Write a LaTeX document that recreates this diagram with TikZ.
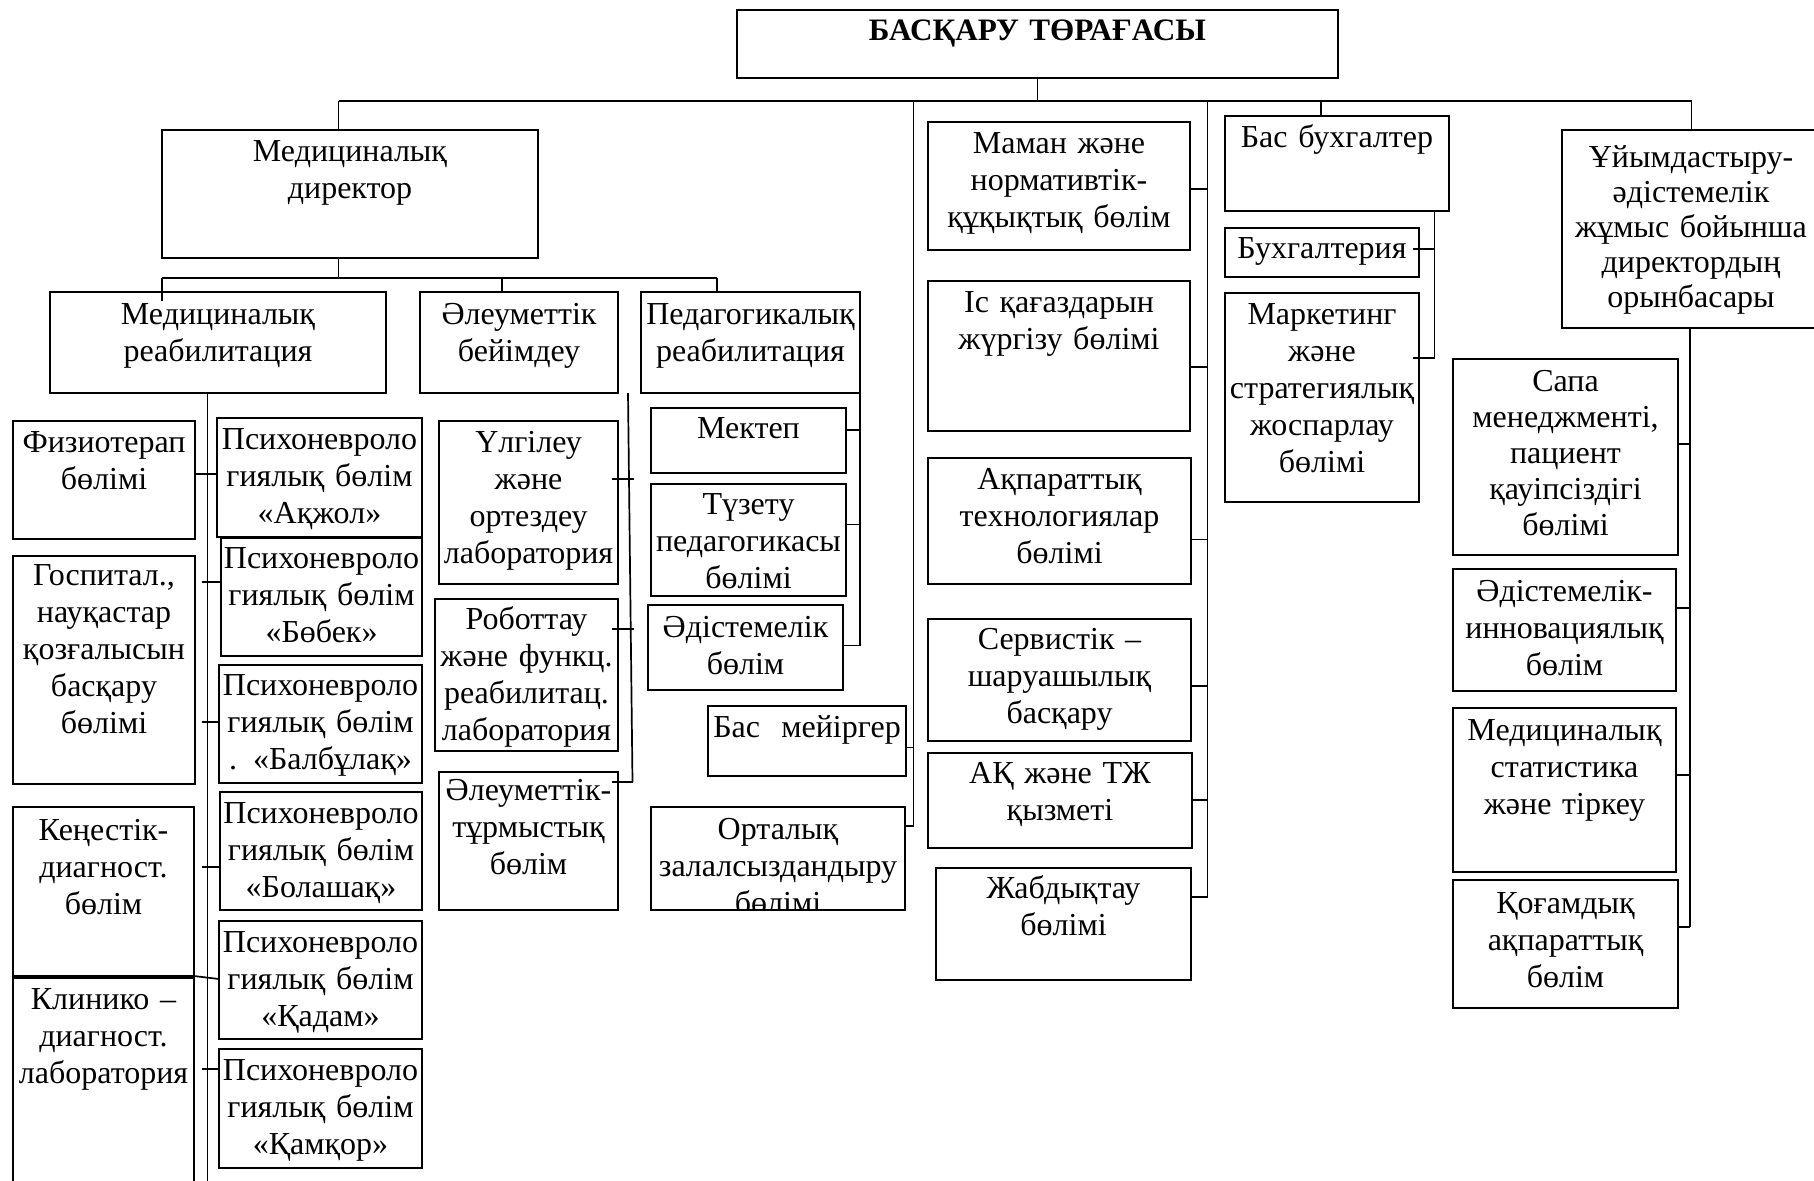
\documentclass[tikz,border=0pt]{standalone}
\usepackage{fontspec}
\setmainfont{Liberation Serif}
\usetikzlibrary{calc}
\tikzset{
  boxst/.style={draw, line width=1pt, inner sep=0pt, outer sep=0pt, rectangle},
  txt/.style={inner sep=0pt, outer sep=0pt, align=center, font=\fontsize{16}{18.5}\selectfont, anchor=base},
  ln/.style={line width=0.85pt},
}
\newcommand\bx[8][]{%
  \pgfmathsetmacro\bxw{(#5-#3)*0.5}%
  \pgfmathsetmacro\bxh{(#6-#4)*0.5}%
  \pgfmathsetmacro\bxt{(#5-#3)*0.5+40}%
  \node[boxst, minimum width=\bxw pt, minimum height=\bxh pt] (#2) at ({(#3+#5)/2},{(#4+#6)/2}) {};
  \node[txt, text width=\bxt pt, #1] (#2t) at ({(#3+#5)/2},{#4+#7}) {#8};
}
\begin{document}
\begin{tikzpicture}[x=0.5pt,y=-0.5pt]
\useasboundingbox (0,0) rectangle (1814,1180);
\fill[white] (0,0) rectangle (1814,1180);

% top level
\bx[font=\bfseries\fontsize{15.6}{18}\selectfont]{top}{737}{10}{1338}{78}{30}{БАСҚАРУ ТӨРАҒАСЫ}
\bx{meddir}{162}{130}{538}{258}{31}{Медициналық\\директор}
\bx{medreab}{50}{292}{386}{393}{32}{Медициналық\\реабилитация}
\bx{aleum}{420}{292}{618}{393}{32}{Әлеуметтік\\бейімдеу}
\bx{ped}{641}{292}{860}{393}{32}{Педагогикалық\\реабилитация}

% left column
\bx{fizio}{13}{421}{195}{539}{31}{Физиотерап\\бөлімі}
\bx{akzhol}{217}{418}{422}{537}{31}{Психоневроло\\гиялық бөлім\\«Ақжол»}
\bx{gosp}{13}{556}{195}{784}{29}{Госпитал.,\\науқастар\\қозғалысын\\басқару\\бөлімі}
\bx{bobek}{221}{538}{422}{656}{30}{Психоневроло\\гиялық бөлім\\«Бөбек»}
\bx{balb}{219}{665}{422}{783}{30}{Психоневроло\\гиялық бөлім\\. «Балбұлақ»}
\bx{kenes}{13}{807}{194}{976}{33}{Кеңестік-\\диагност.\\бөлім}
\bx{klin}{13}{978}{194}{1200}{31}{Клинико –\\диагност.\\лаборатория}
\bx{bolash}{220}{792}{422}{910}{31}{Психоневроло\\гиялық бөлім\\«Болашақ»}
\bx{kadam}{219}{921}{422}{1039}{31}{Психоневроло\\гиялық бөлім\\«Қадам»}
\bx{kamkor}{219}{1049}{422}{1168}{31}{Психоневроло\\гиялық бөлім\\«Қамқор»}

% middle column
\bx{ulgi}{439}{421}{618}{584}{31}{Үлгілеу\\және\\ортездеу\\лаборатория}
\bx{robot}{435}{599}{618}{751}{30}{Роботтау\\және функц.\\реабилитац.\\лаборатория}
\bx{aleumt}{439}{772}{618}{910}{28}{Әлеуметтік-\\тұрмыстық\\бөлім}
\bx{mektep}{651}{408}{846}{473}{30}{Мектеп}
\bx{tuzetu}{651}{484}{846}{596}{30}{Түзету\\педагогикасы\\бөлімі}
\bx{adist}{648}{605}{843}{690}{32}{Әдістемелік\\бөлім}
\bx{basmei}{708}{706}{906}{776}{31}{Бас\ \ мейіргер}
\node[boxst, minimum width=127pt, minimum height=51.5pt] (ortal) at (778,858.5) {};
\begin{scope}
\clip (ortal.south west) rectangle (ortal.north east);
\node[txt, text width=167pt] (ortalt) at (778,839) {Орталық\\залалсыздандыру\\бөлімі};
\end{scope}

% right-middle column
\bx{maman}{928}{122}{1190}{250}{31}{Маман және\\нормативтік-\\құқықтық бөлім}
\bx{isk}{928}{281}{1190}{431}{31}{Іс қағаздарын\\жүргізу бөлімі}
\bx{akpar}{928}{458}{1191}{584}{31}{Ақпараттық\\технологиялар\\бөлімі}
\bx{serv}{928}{619}{1191}{741}{30}{Сервистік –\\шаруашылық\\басқару}
\bx{ak}{928}{753}{1192}{848}{30}{АҚ және ТЖ\\қызметі}
\bx{zhab}{936}{868}{1191}{980}{30}{Жабдықтау\\бөлімі}

% accounting
\bx{basbuh}{1225}{116}{1449}{211}{31}{Бас бухгалтер}
\bx{buh}{1225}{228}{1419}{277}{30}{Бухгалтерия}
\bx{mark}{1225}{293}{1419}{502}{31}{Маркетинг\\және\\стратегиялық\\жоспарлау\\бөлімі}

% right column
\bx[font=\fontsize{16}{17.5}\selectfont]{uyim}{1562}{130}{1820}{328}{37}{Ұйымдастыру-\\әдістемелік\\жұмыс бойынша\\директордың\\орынбасары}
\bx[font=\fontsize{16}{18}\selectfont]{sapa}{1453}{359}{1678}{555}{32}{Сапа\\менеджменті,\\пациент\\қауіпсіздігі\\бөлімі}
\bx{adinn}{1453}{569}{1676}{691}{32}{Әдістемелік-\\инновациялық\\бөлім}
\bx{medstat}{1453}{708}{1676}{872}{32}{Медициналық\\статистика\\және тіркеу}
\bx{kogam}{1453}{880}{1678}{1008}{33}{Қоғамдық\\ақпараттық\\бөлім}

% ---- connectors ----
\coordinate (bL) at (338.6,101);
\coordinate (bR) at (1691.6,101);
\coordinate (bB) at (1321,101);
\coordinate (v1) at (913.5,101);
\coordinate (v2) at (1207.5,101);
\draw[ln] (top.south) -- (top.south |- bL);
\draw[ln] (bL) -- (bR);
\draw[ln] (bL) -- (bL |- meddir.north);
\draw[ln] (bR) -- (bR |- uyim.north);
\draw[ln] (bB) -- (bB |- basbuh.north);

% medical director subtree
\coordinate (m0) at (338.6,278);
\coordinate (mL) at (162,278);
\coordinate (mC) at (502,278);
\coordinate (mR) at (717,278);
\draw[ln] (bL |- meddir.south) -- (m0);
\draw[ln] (mL) -- (mR);
\draw[ln] (mL) -- (162,301);
\draw[ln] (mC) -- (mC |- aleum.north);
\draw[ln] (mR) -- (mR |- ped.north);

% left vertical
\coordinate (lv) at (207.5,393);
\draw[ln] (lv) -- (207.5,1185);
\draw[ln] (fizio.east |- 0,474) -- (akzhol.west |- 0,474);
\draw[ln] (202,582) -- (bobek.west |- 0,582);
\draw[ln] (202,722) -- (balb.west |- 0,722);
\draw[ln] (202,867) -- (bolash.west |- 0,867);
\draw[ln] (kenes.south east) -- (kadam.west |- 0,979);
\draw[ln] (202,1069) -- (kamkor.west |- 0,1069);

% social adaptation line
\coordinate (s0) at (628,393);
\coordinate (s1) at (632.5,782);
\draw[ln] (s0) -- (s1);
\draw[ln] ($(ulgi.east |- 0,479)+(-6,0)$) -- (634,479);
\draw[ln] ($(robot.east |- 0,629)+(-6,0)$) -- (634,629);
\draw[ln] ($(aleumt.east |- 0,782)+(-6,0)$) -- (s1);

% pedagogic line
\coordinate (p1) at (860,645.5);
\draw[ln] (ped.south east) -- (p1);
\draw[ln] (mektep.east |- 0,430) -- (860,430);
\draw[ln] (tuzetu.east |- 0,524.5) -- (860,524.5);
\draw[ln] (adist.east |- p1) -- (p1);

% line v1
\coordinate (v1e) at (913.5,826);
\draw[ln] (v1) -- (v1e);
\draw[ln] (basmei.east |- 0,747.5) -- (913.5,747.5);
\draw[ln] (ortal.east |- v1e) -- (v1e);

% line v2
\coordinate (v2e) at (1207.5,897);
\draw[ln] (v2) -- (v2e);
\draw[ln] (maman.east |- 0,188.7) -- (1207.5,188.7);
\draw[ln] (isk.east |- 0,366.7) -- (1207.5,366.7);
\draw[ln] (akpar.east |- 0,539.4) -- (1207.5,539.4);
\draw[ln] (serv.east |- 0,686) -- (1207.5,686);
\draw[ln] (ak.east |- 0,800) -- (1207.5,800);
\draw[ln] (zhab.east |- v2e) -- (v2e);

% accounting line
\coordinate (a1) at (1434.5,358.3);
\draw[ln] (basbuh.south -| a1) -- (a1);
\draw[ln] ($(buh.east |- 0,249)+(-6,0)$) -- (1434.5,249);
\draw[ln] ($(mark.east |- a1)+(-6,0)$) -- (a1);

% right line
\coordinate (r1) at (1690,927);
\draw[ln] (uyim.south -| r1) -- (r1);
\draw[ln] (sapa.east |- 0,444) -- (1690,444);
\draw[ln] (adinn.east |- 0,608) -- (1690,608);
\draw[ln] (medstat.east |- 0,775) -- (1690,775);
\draw[ln] (kogam.east |- r1) -- (r1);
\end{tikzpicture}
\end{document}
